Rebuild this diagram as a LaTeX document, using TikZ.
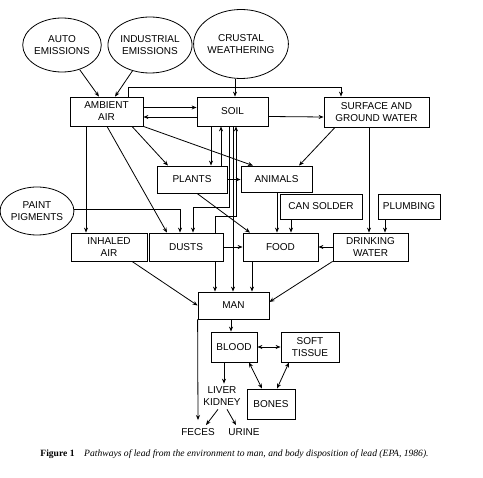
\documentclass[tikz,border=0pt]{standalone}
\usepackage{fontspec}
\newfontfamily\diagfont{Liberation Sans}
\newfontfamily\capfont{Liberation Serif}
\usetikzlibrary{shapes.geometric,arrows.meta}

\begin{document}
\begin{tikzpicture}[x=1pt,y=-1pt,line width=0.8pt,
        font=\diagfont\fontsize{10}{12}\selectfont,
        >={Stealth[length=5pt,width=4pt]},
        box/.style={draw,rectangle,align=center,inner sep=0pt},
        oval/.style={draw,ellipse,align=center,inner sep=0pt},
        lbl/.style={align=center,inner sep=3pt},
        arr/.style={->},
        biarr/.style={<->}]
        \useasboundingbox (0,0) rectangle (483,478);

        %%%%%%%%%% Sorgenti %%%%%%%%%%
        \node[oval,minimum width=70,minimum height=54] (autoem) at (62,45) {AUTO\\EMISSIONS};
        \node[oval,minimum width=80,minimum height=56] (industry) at (150,45) {INDUSTRIAL\\EMISSIONS};
        \node[oval,minimum width=88,minimum height=69] (crust) at (241,44) {CRUSTAL\\WEATHERING};
        \node[oval,minimum width=72,minimum height=48] (paint) at (37,211) {PAINT\\PIGMENTS};

        %%%%%%%%%% Comparti %%%%%%%%%%
        \node[box,minimum width=73,minimum height=29] (ambient) at (106.5,111.5) {AMBIENT\\AIR};
        \node[box,minimum width=71,minimum height=29] (soil) at (232.5,111.5) {SOIL};
        \node[box,minimum width=105,minimum height=30] (water) at (376.5,112) {SURFACE AND\\GROUND WATER};
        \node[box,minimum width=70,minimum height=27] (plants) at (192,179.5) {PLANTS};
        \node[box,minimum width=71,minimum height=26] (animals) at (276.5,179) {ANIMALS};
        \node[box,minimum width=82,minimum height=25] (solder) at (321,206.5) {CAN SOLDER};
        \node[box,minimum width=62,minimum height=25] (plumbing) at (409,206.5) {PLUMBING};
        \node[box,minimum width=76,minimum height=28] (inhaled) at (109,247) {INHALED\\AIR};
        \node[box,minimum width=74,minimum height=28] (dusts) at (186,247) {DUSTS};
        \node[box,minimum width=75,minimum height=28] (food) at (280.5,247) {FOOD};
        \node[box,minimum width=75,minimum height=28] (drinking) at (370.5,247) {DRINKING\\WATER};

        %%%%%%%%%% Corpo %%%%%%%%%%
        \node[box,minimum width=71,minimum height=27] (man) at (233.5,305.5) {MAN};
        \node[box,minimum width=46,minimum height=30] (blood) at (234,347) {BLOOD};
        \node[box,minimum width=58,minimum height=30] (tissue) at (310,347) {SOFT\\TISSUE};
        \node[box,minimum width=48,minimum height=30] (bones) at (271,404) {BONES};
        \node[lbl] (organs) at (222,396.5) {LIVER\\KIDNEY};
        \node[lbl] (feces) at (198,432) {FECES};
        \node[lbl] (urine) at (244,432) {URINE};

        \node[anchor=west,inner sep=0pt,font=\capfont\fontsize{9.6}{11}\selectfont] (caption) at (40,454)
            {\textbf{Figure 1}\quad\textit{Pathways of lead from the environment to man, and body disposition of lead (EPA, 1986).}};

        %%%%%%%%%% Frecce %%%%%%%%%%
        \draw[arr] (autoem) -- ([xshift=-7.5]ambient.north);
        \draw[arr] (industry) -- ([xshift=8.5]ambient.north);
        \coordinate (fork) at ([xshift=-6,yshift=-9]crust.south);
        \draw[arr] ([xshift=-6]crust.south) -- ([xshift=2.5]soil.north);
        \draw (fork) -| ([xshift=21.5]ambient.north);
        \draw[arr] (fork) -| ([xshift=-35.5]water.north);

        \draw[arr] ([yshift=4]ambient.east) -- ([yshift=4]soil.west);
        \draw[arr] ([yshift=-5.5]soil.west) -- ([yshift=-5.5]ambient.east);
        \draw[arr] ([yshift=-5]soil.east) -- ([yshift=-5]water.west);

        \draw[arr] ([xshift=-20.5]ambient.south) -- ([xshift=-20.5]ambient.south |- inhaled.north);
        \draw[arr] ([xshift=0.5]ambient.south) -- ([xshift=-19]dusts.north);
        \draw[arr] ([xshift=25.5]ambient.south) -- ([xshift=-24]plants.north);
        \draw[arr] (ambient.south east) -- ([xshift=-23.5]animals.north);
        \draw[arr] ([xshift=-41.5]water.south) -- ([xshift=22.5]animals.north);
        \draw[arr] ([xshift=-7.5]water.south) -- ([xshift=-7.5]water.south |- drinking.north);

        \draw[arr] ([xshift=-21.5]soil.south) -- ([xshift=-21.5]soil.south |- plants.north);
        \draw[arr] ([xshift=-11.5]soil.south |- plants.north) -- ([xshift=-11.5]soil.south);
        \draw[arr] ([xshift=-3.5]soil.south) -- ++(0,81) -| ([xshift=7]dusts.north);
        \draw[arr] ([xshift=0.5]soil.south) -- ([xshift=0.5]soil.south |- man.north);
        \draw[arr] ([xshift=29]dusts.north) -- ++(0,-16) -| ([xshift=3.5]soil.south);

        \draw[arr] (plants.east) -- (plants.east -| animals.west);
        \draw[arr] ([xshift=5]plants.south) -- ([xshift=-30.5]food.north);
        \draw[arr] ([xshift=0.5]animals.south) -- ([xshift=0.5]animals.south |- food.north);
        \draw[arr] ([xshift=-30]solder.south) -- ([xshift=-30]solder.south |- food.north);
        \draw[arr] ([xshift=-24]plumbing.south) -- ([xshift=-24]plumbing.south |- drinking.north);
        \draw[arr] ([yshift=2]paint.east) -| ([xshift=-6]dusts.north);
        \draw[arr] (dusts.east) -- (food.west);
        \draw[arr] (drinking.west) -- (food.east);

        \draw[arr] ([xshift=23]inhaled.south) -- (man.west);
        \draw[arr] (drinking.south west) -- ([yshift=3.5]man.east);
        \draw[arr] ([xshift=-28.5]food.south) -- ([xshift=-28.5]food.south |- man.north);
        \draw[arr] ([xshift=29]dusts.south) -- ([xshift=29]dusts.south |- man.north);

        \draw[arr] ([xshift=-2.5]man.south) -- ([xshift=-2.5]man.south |- blood.north);
        \draw[biarr] (blood.east) -- (tissue.west);
        \draw[biarr] ([xshift=15]blood.south) -- ([xshift=-9]bones.north);
        \draw[biarr] ([xshift=-21]tissue.south) -- ([xshift=6]bones.north);
        \draw[arr] ([xshift=-10]blood.south) -- ([xshift=-10]blood.south |- organs.north);
        \draw[arr] (man.south west) -- ([yshift=5]feces.north);
        \draw[arr] ([xshift=-4]organs.south) -- ([xshift=8]feces.north);
        \draw[arr] ([xshift=5]organs.south) -- ([xshift=-8]urine.north);
    \end{tikzpicture}
\end{document}
